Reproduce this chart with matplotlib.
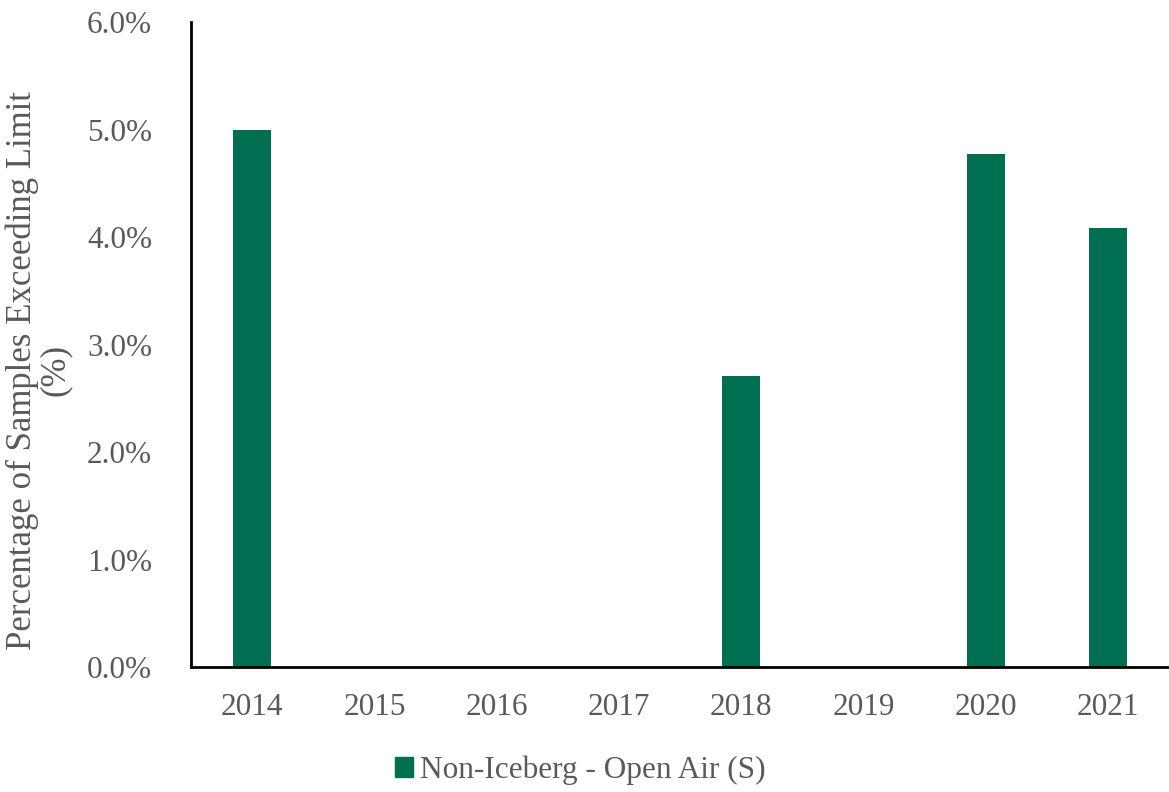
import matplotlib.pyplot as plt
from matplotlib.ticker import PercentFormatter
from matplotlib.patches import Patch

years = ["2014", "2015", "2016", "2017", "2018", "2019", "2020", "2021"]
pct_exceeding = [5.0, 0.0, 0.0, 0.0, 2.71, 0.0, 4.77, 4.08]
series_name = "Non-Iceberg - Open Air (S)"
bar_color = "#006F51"

plt.rcParams['font.family'] = ['Liberation Serif', 'DejaVu Serif']

fig = plt.figure(figsize=(11.69, 7.92), dpi=100)
ax = fig.add_axes([0.1634, 0.1578, 0.8366, 0.8144])

ax.bar(years, pct_exceeding, width=0.31, color=bar_color)
ax.set_xlim(-0.5, len(years) - 0.5)
ax.set_ylim(0, 6)
ax.set_yticks([0, 1, 2, 3, 4, 5, 6])
ax.yaxis.set_major_formatter(PercentFormatter(decimals=1))

for side in ["top", "right"]:
    ax.spines[side].set_visible(False)
ax.spines["left"].set_linewidth(2)
ax.spines["bottom"].set_linewidth(2)
ax.tick_params(axis="both", length=0, labelsize=22.5, labelcolor="#595959")
ax.tick_params(axis="y", pad=28)
ax.tick_params(axis="x", pad=19)

ax.set_ylabel("Percentage of Samples Exceeding Limit\n(%)", fontsize=25,
              color="#595959", linespacing=1.0)
ax.yaxis.set_label_coords(-0.122, 0.46)

handles = [Patch(color=bar_color, label=series_name)]
fig.legend(handles=handles, loc="center", bbox_to_anchor=(0.496, 0.027),
           frameon=False, fontsize=22.5, handlelength=0.6, handleheight=0.6,
           handletextpad=0.2, labelcolor="#595959")

fig.savefig("out.png", dpi=100)
